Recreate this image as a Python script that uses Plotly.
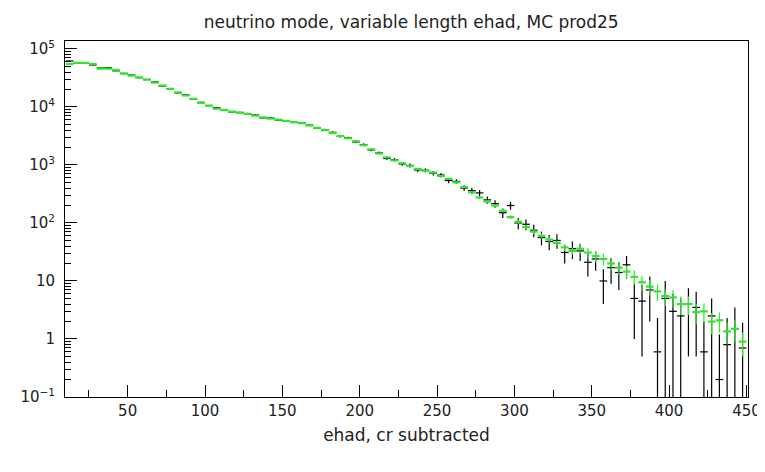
import plotly.graph_objects as go

# bin centres (bin width 5)
ehad = [12.5 + 5 * i for i in range(88)]

mc_counts = [55000, 57500, 57500, 55000, 45700, 45700, 43600, 38000, 34700, 32400,
             29500, 26300, 23400, 20400, 17800, 15800, 13800, 11700, 10500, 9330,
             8910, 8320, 7940, 7590, 7080, 6610, 6310, 6030, 5750, 5500,
             5250, 4790, 4370, 3980, 3550, 3160, 2880, 2570, 2190, 1860,
             1580, 1350, 1200, 1070, 955, 851, 794, 741, 646, 575,
             501, 417, 339, 275, 234, 200, 162, 126, 105, 85,
             71, 60, 52, 45, 38, 33, 36, 31, 27, 24,
             20, 17, 14.5, 11.8, 9.5, 8.0, 6.6, 5.5, 5.2, 4.0,
             4.0, 2.9, 3.0, 2.0, 2.1, 1.35, 1.5, 0.9]

mc_err = [300, 300, 300, 300, 250, 250, 250, 220, 200, 200,
          180, 170, 160, 150, 140, 130, 120, 110, 100, 95,
          90, 90, 85, 85, 80, 80, 75, 75, 70, 70,
          70, 65, 65, 60, 55, 55, 50, 50, 45, 40,
          40, 35, 35, 30, 30, 28, 27, 26, 24, 23,
          21, 19, 17, 15, 14, 13, 11, 10, 9, 8,
          7, 6.5, 6, 5.5, 5, 4.6, 7, 6.5, 6, 5.5,
          4.8, 4.2, 3.8, 3.3, 2.8, 2.4, 2.1, 1.8, 1.7, 1.4,
          1.4, 1.1, 1.1, 0.8, 0.8, 0.55, 0.6, 0.4]

data_counts = [62000, 57000, 57500, 53000, 47000, 47500, 42000, 37500, 35500, 32000,
               29800, 27000, 23000, 20800, 17500, 16200, 13600, 12000, 10600, 9700,
               8800, 8200, 8050, 7700, 7250, 6500, 6450, 5900, 5800, 5400,
               5350, 4850, 4300, 4050, 3650, 3100, 2950, 2500, 2250, 1820,
               1620, 1300, 1230, 1040, 980, 820, 810, 720, 670, 540,
               520, 400, 360, 330, 250, 215, 150, 200, 100, 95,
               75, 56, 48, 50, 31, 36, 33, 21, 24, 10,
               17, 14, 19, 5, 4.5, 7, 0.6, 5, 3, 2.5,
               4, 3.5, 0.6, 2.5, 0.2, 0.8, 1.5, 0.7]

data_err = [700, 650, 650, 600, 550, 550, 500, 480, 450, 430,
            420, 400, 370, 350, 330, 320, 290, 270, 250, 240,
            230, 220, 220, 210, 200, 190, 190, 180, 180, 170,
            170, 160, 150, 150, 140, 130, 125, 115, 110, 100,
            95, 85, 85, 75, 75, 70, 65, 60, 60, 55,
            50, 45, 45, 40, 35, 32, 28, 30, 22, 20,
            18, 15, 14, 14, 11, 12, 11, 9, 9, 6,
            8, 7, 8, 4, 4, 5, 1.7, 5, 3, 2.5,
            3.5, 3, 1.4, 2.5, 1.0, 1.5, 2.0, 1.2]

y_tickvals = [0.1, 1, 10, 100, 1e3, 1e4, 1e5]
y_ticktext = ["10<sup>\u22121</sup>", "1", "10", "10<sup>2</sup>",
              "10<sup>3</sup>", "10<sup>4</sup>", "10<sup>5</sup>"]
x_tickvals = [50, 100, 150, 200, 250, 300, 350, 400, 450]
x_minor = [25, 75, 125, 175, 225, 275, 325, 375, 425]

y_minor = [m * 10 ** e for e in range(-1, 6) for m in range(2, 10)]

GREEN = "#2ee62e"

fig = go.Figure()

fig.add_trace(go.Scatter(
    x=ehad, y=data_counts, mode="markers",
    marker=dict(size=1, color="black"),
    error_x=dict(type="constant", value=2.5, width=0, thickness=1.2, color="black"),
    error_y=dict(type="data", array=data_err, width=0, thickness=1.2, color="black"),
    showlegend=False, hoverinfo="skip"))

fig.add_trace(go.Scatter(
    x=ehad, y=mc_counts, mode="markers",
    marker=dict(size=1, color=GREEN),
    error_x=dict(type="constant", value=2.5, width=0, thickness=2.2, color=GREEN),
    error_y=dict(type="data", array=mc_err, width=0, thickness=1.2, color=GREEN),
    showlegend=False, hoverinfo="skip"))

fig.update_layout(
    width=765, height=472,
    margin=dict(l=56, r=14, t=33, b=83),
    paper_bgcolor="white", plot_bgcolor="white",
    font=dict(family="DejaVu Sans", size=15, color="#222222"),
    title=dict(text="neutrino mode, variable length ehad, MC prod25",
               x=0.527, xanchor="center", y=0.970, yanchor="middle",
               font=dict(family="DejaVu Sans", size=17, color="#222222")),
    xaxis=dict(range=[9.5, 451], tickmode="array", tickvals=x_tickvals,
               ticks="inside", ticklen=12, tickwidth=1, tickcolor="black",
               showline=True, linecolor="black", linewidth=1, mirror=True,
               showgrid=False, zeroline=False,
               minor=dict(ticks="inside", ticklen=7, tickwidth=1, tickcolor="black",
                          tickmode="array", tickvals=x_minor),
               title=dict(text="ehad, cr subtracted", standoff=10,
                          font=dict(family="DejaVu Sans", size=17))),
    yaxis=dict(type="log", range=[-1, 5.137], tickmode="array",
               tickvals=y_tickvals, ticktext=y_ticktext,
               ticks="inside", ticklen=12, tickwidth=1, tickcolor="black",
               showline=True, linecolor="black", linewidth=1, mirror=True,
               showgrid=False, zeroline=False, ticklabelstandoff=6,
               minor=dict(ticks="inside", ticklen=6, tickwidth=1, tickcolor="black",
                          tickmode="array", tickvals=y_minor)),
)

fig.write_html("out.html")
